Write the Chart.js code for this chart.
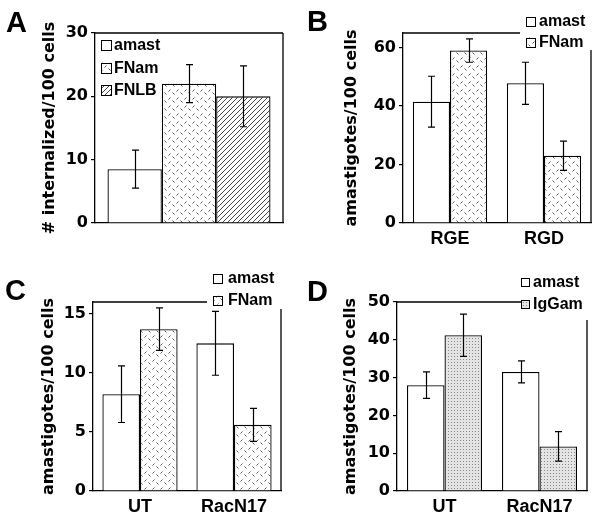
<!DOCTYPE html>
<html>
<head>
<meta charset="utf-8">
<script src="https://cdn.jsdelivr.net/npm/chart.js@4"></script>
<style>
  body { margin:0; background:#fff; width:599px; height:525px; position:relative; overflow:hidden; }
  canvas { position:absolute; }
</style>
</head>
<body>
<canvas id="cA" width="300" height="262" style="left:0;top:0"></canvas>
<canvas id="cB" width="299" height="262" style="left:300px;top:0"></canvas>
<canvas id="cC" width="300" height="263" style="left:0;top:262px"></canvas>
<canvas id="cD" width="299" height="263" style="left:300px;top:262px"></canvas>
<script>
// panel A
const labelsA = [''];
const amastA = [8.5], amastErrA = [3];
const fnamA = [22], fnamErrA = [3];
const fnlbA = [20], fnlbErrA = [4.8];
const ticksA = [0, 10, 20, 30];

// panel B
const labelsB = ['RGE', 'RGD'];
const amastB = [41.5, 47.8], amastErrB = [8.7, 7.2];
const fnamB = [59, 23], fnamErrB = [4, 5];
const ticksB = [0, 20, 40, 60];

// panel C
const labelsC = ['UT', 'RacN17'];
const amastC = [8.2, 12.5], amastErrC = [2.4, 2.7];
const fnamC = [13.7, 5.6], fnamErrC = [1.8, 1.4];
const ticksC = [0, 5, 10, 15];

// panel D
const labelsD = ['UT', 'RacN17'];
const amastD = [28, 31.5], amastErrD = [3.5, 2.9];
const iggD = [41.2, 11.8], iggErrD = [5.6, 3.9];
const ticksD = [0, 10, 20, 30, 40, 50];

function makePattern(kind){
  const c = document.createElement('canvas');
  const g = c.getContext('2d');
  if(kind === 'dash'){
    c.width = 8; c.height = 8;
    g.fillStyle = '#fff'; g.fillRect(0,0,8,8);
    g.strokeStyle = '#555'; g.lineWidth = 1;
    g.beginPath();
    g.moveTo(0.5,3.5); g.lineTo(2.5,1.5);
    g.moveTo(4.5,4.5); g.lineTo(6.5,6.5);
    g.stroke();
  } else if(kind === 'hatch'){
    c.width = 5; c.height = 5;
    g.fillStyle = '#fff'; g.fillRect(0,0,5,5);
    g.strokeStyle = '#333'; g.lineWidth = 0.9;
    g.beginPath();
    g.moveTo(0,5); g.lineTo(5,0);
    g.moveTo(-1,1); g.lineTo(1,-1);
    g.moveTo(4,6); g.lineTo(6,4);
    g.stroke();
  } else if(kind === 'dots'){
    c.width = 3; c.height = 3;
    g.fillStyle = '#e4e4e4'; g.fillRect(0,0,3,3);
    g.fillStyle = '#888'; g.fillRect(1,1,1,1);
  }
  return g.createPattern(c, 'repeat');
}

const pDash = makePattern('dash');
const pHatch = makePattern('hatch');
const pDots = makePattern('dots');

const tickFont = { family: 'DejaVu Sans', weight: 'bold', size: 16 };
const titleFont = { family: 'DejaVu Sans', weight: 'bold', size: 16 };
const xFont = { family: 'Liberation Sans', weight: 'bold', size: 18 };
const legFont = 'bold 16px "Liberation Sans"';

const panelPlugin = {
  id: 'panel',
  afterDatasetsDraw(chart){
    const ctx = chart.ctx, ys = chart.scales.y;
    ctx.save();
    ctx.strokeStyle = '#000'; ctx.lineWidth = 1.2;
    chart.data.datasets.forEach((ds, i) => {
      chart.getDatasetMeta(i).data.forEach((bar, j) => {
        const v = ds.data[j], e = ds.err[j];
        const x = Math.round(bar.x) + 0.5;
        const y1 = ys.getPixelForValue(v - e), y2 = ys.getPixelForValue(v + e);
        ctx.beginPath();
        ctx.moveTo(x, y1); ctx.lineTo(x, y2);
        ctx.moveTo(x - 3.5, y1); ctx.lineTo(x + 3.5, y1);
        ctx.moveTo(x - 3.5, y2); ctx.lineTo(x + 3.5, y2);
        ctx.stroke();
      });
    });
    ctx.restore();
  },
  afterDraw(chart, args, o){
    const ctx = chart.ctx, a = chart.chartArea;
    ctx.save();
    // frame top and right
    ctx.strokeStyle = '#000'; ctx.lineWidth = 1.3;
    ctx.beginPath();
    ctx.moveTo(a.left, a.top); ctx.lineTo(o.topEnd || a.right, a.top);
    ctx.moveTo(a.right, o.rightStart || a.top); ctx.lineTo(a.right, a.bottom);
    ctx.stroke();
    // legend
    ctx.font = legFont; ctx.textBaseline = 'middle'; ctx.fillStyle = '#000';
    chart.data.datasets.forEach((ds, i) => {
      const cy = o.legY + i * o.legGap;
      const b = o.legBox;
      ctx.fillStyle = ds.backgroundColor;
      ctx.fillRect(o.legX, cy - b / 2, b, b);
      ctx.strokeStyle = '#000'; ctx.lineWidth = 1;
      ctx.strokeRect(o.legX + 0.5, Math.round(cy - b / 2) + 0.5, b, b);
      ctx.fillStyle = '#000';
      ctx.fillText(ds.label, o.legTextX, cy + 1);
    });
    // panel letter
    ctx.font = 'bold 29px "Liberation Sans"';
    ctx.textBaseline = 'alphabetic';
    ctx.fillText(o.letter, o.letterX, o.letterY);
    ctx.restore();
  }
};

function buildPanel(id, labels, datasets, yTicks, yMax, yTitle, L){
  return new Chart(document.getElementById(id), {
    type: 'bar',
    data: { labels, datasets: datasets.map(d => ({
      label: d.label, data: d.data, err: d.err,
      backgroundColor: d.fill, borderColor: '#000', borderWidth: 1.3,
      categoryPercentage: L.catPct, barPercentage: 1
    })) },
    options: {
      responsive: false, animation: false,
      layout: { padding: L.pad },
      plugins: {
        legend: { display: false }, tooltip: { enabled: false },
        panel: L.panel
      },
      scales: {
        x: {
          afterFit: s => { s.height = 30; },
          grid: { display: false },
          border: { color: '#000', width: 1.3 },
          ticks: { color: '#000', font: xFont, padding: -3 }
        },
        y: {
          min: 0, max: yMax,
          afterBuildTicks: s => { s.ticks = yTicks.map(v => ({ value: v })); },
          afterFit: s => { s.width = L.axisW; },
          grid: { drawOnChartArea: false, drawTicks: true, tickLength: 4, color: '#000', lineWidth: 1.2 },
          border: { color: '#000', width: 1.3 },
          ticks: { color: '#000', font: tickFont, padding: 3 },
          title: { display: true, text: yTitle, color: '#000', font: titleFont, padding: { top: 0, bottom: 0 } }
        }
      }
    },
    plugins: [panelPlugin]
  });
}

buildPanel('cA', labelsA, [
  { label: 'amast', data: amastA, err: amastErrA, fill: '#fff' },
  { label: 'FNam', data: fnamA, err: fnamErrA, fill: pDash },
  { label: 'FNLB', data: fnlbA, err: fnlbErrA, fill: pHatch }
], ticksA, 30, '# internalized/100 cells', {
  pad: { left: 40, top: 33, right: 17, bottom: 9 }, axisW: 55, catPct: 0.867,
  panel: { letter: 'A', letterX: 6, letterY: 32, legX: 101, legY: 45, legGap: 22.5, legBox: 10, legTextX: 114 }
});

buildPanel('cB', labelsB, [
  { label: 'amast', data: amastB, err: amastErrB, fill: '#fff' },
  { label: 'FNam', data: fnamB, err: fnamErrB, fill: pDash }
], ticksB, 65, 'amastigotes/100 cells', {
  pad: { left: 42, top: 33, right: 8, bottom: 9 }, axisW: 61, catPct: 0.79,
  panel: { letter: 'B', letterX: 7, letterY: 31, legX: 226, legY: 21, legGap: 21, legBox: 9, legTextX: 239, topEnd: 220, rightStart: 50 }
});

buildPanel('cC', labelsC, [
  { label: 'amast', data: amastC, err: amastErrC, fill: '#fff' },
  { label: 'FNam', data: fnamC, err: fnamErrC, fill: pDash }
], ticksC, 16, 'amastigotes/100 cells', {
  pad: { left: 39, top: 40, right: 19, bottom: 4 }, axisW: 54, catPct: 0.8,
  panel: { letter: 'C', letterX: 5, letterY: 38, legX: 213, legY: 16, legGap: 22, legBox: 9, legTextX: 228, topEnd: 207, rightStart: 47 }
});

buildPanel('cD', labelsD, [
  { label: 'amast', data: amastD, err: amastErrD, fill: '#fff' },
  { label: 'IgGam', data: iggD, err: iggErrD, fill: pDots }
], ticksD, 50, 'amastigotes/100 cells', {
  pad: { left: 41, top: 40, right: 12, bottom: 4 }, axisW: 56, catPct: 0.79,
  panel: { letter: 'D', letterX: 7, letterY: 39, legX: 221, legY: 20, legGap: 22, legBox: 8, legTextX: 233, topEnd: 221, rightStart: 58 }
});
</script>
</body>
</html>
